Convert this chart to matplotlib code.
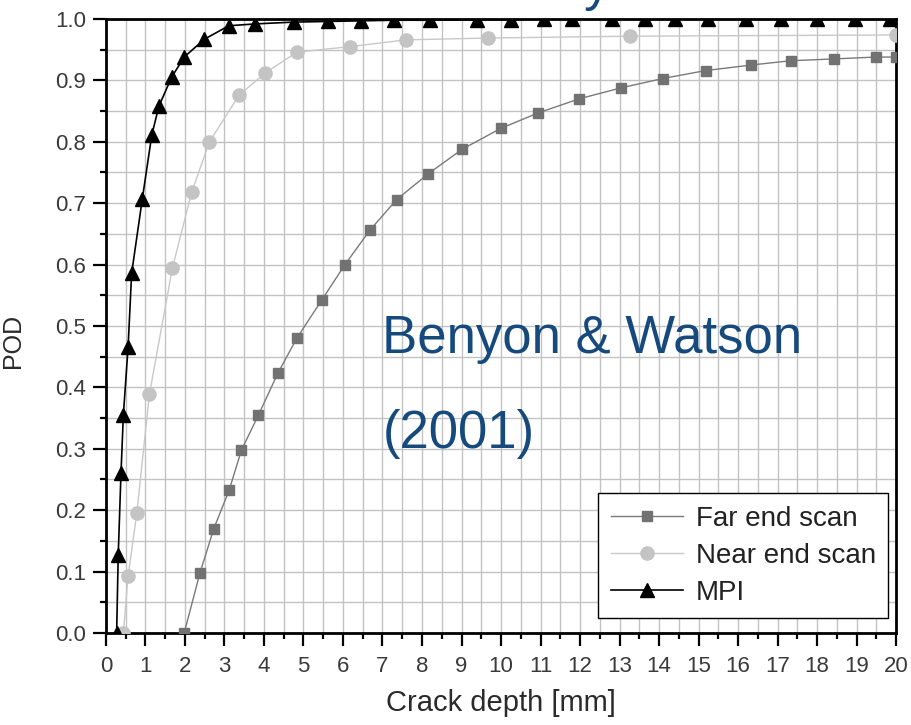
import matplotlib
matplotlib.use("Agg")
import matplotlib.pyplot as plt
from matplotlib.ticker import MultipleLocator

plt.rcParams['font.family'] = ['Liberation Sans', 'DejaVu Sans']

# Far end scan
far_x = [1.98, 2.38, 2.73, 3.12, 3.43, 3.86, 4.35, 4.83, 5.46, 6.05, 6.68, 7.36,
         8.16, 9.02, 10.0, 10.94, 11.98, 13.05, 14.09, 15.18, 16.33, 17.33, 18.44,
         19.49, 20.0]
far_y = [0.0, 0.098, 0.17, 0.233, 0.298, 0.355, 0.423, 0.48, 0.542, 0.6, 0.656,
         0.706, 0.748, 0.788, 0.822, 0.847, 0.87, 0.888, 0.903, 0.916, 0.925,
         0.932, 0.935, 0.938, 0.938]

# Near end scan
near_x = [0.44, 0.56, 0.78, 1.10, 1.68, 2.17, 2.62, 3.37, 4.03, 4.83, 6.18,
          7.59, 9.68, 13.27, 20.0]
near_y = [0.0, 0.093, 0.195, 0.389, 0.594, 0.718, 0.8, 0.876, 0.912, 0.946,
          0.955, 0.966, 0.969, 0.972, 0.974]

# MPI
mpi_x = [0.27, 0.31, 0.38, 0.44, 0.56, 0.65, 0.92, 1.16, 1.34, 1.66, 1.98, 2.49,
         3.11, 3.78, 4.77, 5.62, 6.45, 7.3, 8.2, 9.4, 10.25, 11.1, 11.8, 12.8,
         13.65, 14.4, 15.25, 16.2, 17.1, 18.0, 18.95, 19.85]
mpi_y = [0.0, 0.127, 0.26, 0.355, 0.466, 0.586, 0.707, 0.811, 0.858, 0.905,
         0.938, 0.967, 0.989, 0.992, 0.995, 0.996, 0.997, 0.998, 0.998, 0.999,
         0.999, 1.0, 1.0, 1.0, 1.0, 1.0, 1.0, 1.0, 1.0, 1.0, 1.0, 1.0]

labels = ["Far end scan", "Near end scan", "MPI"]
blue = "#174a7c"

fig = plt.figure(figsize=(9.12, 7.25), dpi=100)
ax = fig.add_axes([0.1162, 0.1269, 0.8663, 0.8469])

ax.plot(far_x, far_y, '-', color='#7a7a7a', lw=1.0, marker='s', ms=7.5,
        mfc='#727272', mec='#727272', label=labels[0], zorder=3)
ax.plot(near_x, near_y, '-', color='#c8c8c8', lw=1.0, marker='o', ms=9.5,
        mfc='#c4c4c4', mec='#c4c4c4', label=labels[1], zorder=3)
ax.plot(mpi_x, mpi_y, '-', color='black', lw=1.2, marker='^', ms=10.5,
        mfc='black', mec='black', label=labels[2], zorder=4)

ax.set_xlim(0, 20)
ax.set_ylim(0, 1.0)
ax.xaxis.set_major_locator(MultipleLocator(1))
ax.xaxis.set_minor_locator(MultipleLocator(0.5))
ax.yaxis.set_major_locator(MultipleLocator(0.1))
ax.yaxis.set_minor_locator(MultipleLocator(0.05))
ax.yaxis.set_major_formatter(plt.FormatStrFormatter('%.1f'))

ax.grid(True, which='both', color='#c2c2c2', lw=1.0)
ax.set_axisbelow(True)

for s in ax.spines.values():
    s.set_linewidth(2.0)
    s.set_color('black')

ax.tick_params(which='major', direction='out', length=9.5, width=1.6,
               color='black', labelcolor='#3a3a3a', pad=5)
ax.tick_params(which='minor', direction='out', length=4.5, width=1.6,
               color='black')
ax.tick_params(axis='x', labelsize=16, pad=7)
ax.tick_params(axis='y', labelsize=16)

ax.set_xlabel("Crack depth [mm]", fontsize=21, color='#2a2a2a', labelpad=9)
ax.set_ylabel("POD", fontsize=18, color='#2a2a2a')
ax.yaxis.set_label_coords(-0.1025, 0.476)

ax.text(7.0, 0.456, "Benyon & Watson", fontsize=38, color=blue, va='baseline')
ax.text(7.0, 0.301, "(2001)", fontsize=38, color=blue, va='baseline')

# cut-off title descender at the top edge
fig.text(0.655, 1.0, "y", fontsize=38, color=blue, va='baseline', ha='center')

leg = ax.legend(loc='lower right', bbox_to_anchor=(0.99, 0.024),
                borderaxespad=0, fontsize=20, numpoints=1, handlelength=2.6,
                handletextpad=0.45, labelspacing=0.4, fancybox=False,
                framealpha=1, edgecolor='black', borderpad=0.45)
leg.get_frame().set_linewidth(1.0)
for t in leg.get_texts():
    t.set_color('#222222')

fig.savefig("out.png", dpi=100)
